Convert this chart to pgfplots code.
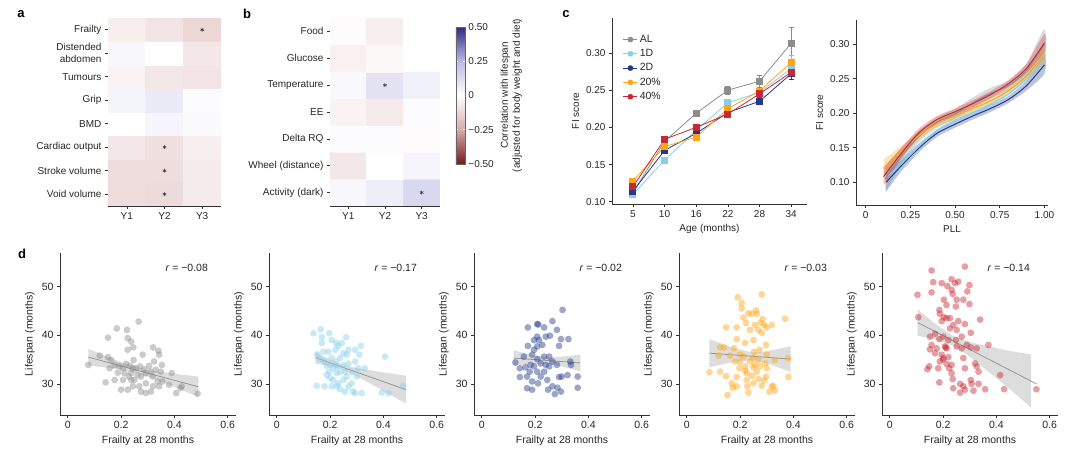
\documentclass[border=0pt]{standalone}
\usepackage{fontspec}
\setmainfont{Liberation Sans}
\usepackage{pgfplots}
\pgfplotsset{compat=1.18}
\usetikzlibrary{plotmarks}
\definecolor{cAL}{RGB}{140,140,140}
\definecolor{cOneD}{RGB}{135,206,235}
\definecolor{cTwoD}{RGB}{35,58,140}
\definecolor{cTw}{RGB}{255,165,20}
\definecolor{cFo}{RGB}{200,40,50}
\definecolor{axc}{RGB}{50,50,50}
\definecolor{regc}{RGB}{150,150,150}
\pgfplotsset{
  colormap={corr}{rgb255=(120,25,28) rgb255=(215,170,170) rgb255=(255,255,255) rgb255=(185,185,228) rgb255=(45,45,130)},
  base/.style={scale only axis, anchor=south west,
    axis x line*=bottom, axis y line*=left,
    axis line style={-, draw=axc, line width=0.7pt},
    tick align=outside, major tick length=3pt,
    tick style={draw=axc, line width=0.6pt},
    ticklabel style={font=\fontsize{10}{12}\selectfont, text=black!85},
    label style={font=\fontsize{10}{12}\selectfont, text=black!85},
    /pgf/number format/assume math mode=true,
    minor tick num=0},
  dax/.style={base, width=176pt, height=162pt, xmin=-0.029, xmax=0.631, ymin=23.6, ymax=56.9,
    xtick={0,0.2,0.4,0.6}, xticklabels={0,0.2,0.4,0.6},
    ytick={30,40,50}, yticklabels={30,40,50},
    ticklabel style={font=\fontsize{10.5}{12}\selectfont},
    label style={font=\fontsize{10.5}{12}\selectfont},
    xlabel={Frailty at 28 months}, ylabel={Lifespan (months)}},
  pts/.style={only marks, mark=*, mark size=3.4pt, color=#1, mark options={draw=#1, draw opacity=0, fill=#1, fill opacity=0.45}},
  rib/.style={fill=gray!75, fill opacity=0.35, draw=none},
  regl/.style={regc, line width=0.8pt},
}
\begin{document}
\begin{tikzpicture}
\useasboundingbox (0,0) rectangle (1080pt,463pt);
\node[font=\bfseries\fontsize{13}{14}\selectfont] at (21pt,449pt) {a};
\node[font=\bfseries\fontsize{13}{14}\selectfont] at (247pt,449pt) {b};
\node[font=\bfseries\fontsize{13}{14}\selectfont] at (566pt,449pt) {c};
\node[font=\bfseries\fontsize{13}{14}\selectfont] at (22pt,209pt) {d};

% ---------- panel a
\begin{axis}[base, at={(108pt,257pt)}, width=113pt, height=188pt,
  xmin=-0.5,xmax=2.5,ymin=-0.5,ymax=7.5,
  xtick={0,1,2}, xticklabels={Y1,Y2,Y3},
  ytick={0,...,7}, yticklabels={Void volume,Stroke volume,Cardiac output,BMD,Grip,Tumours,{Distended\\abdomen},Frailty},
  yticklabel style={align=right},
  colormap name=corr, point meta min=-0.5, point meta max=0.5]
\addplot[matrix plot*, mesh/cols=3, point meta=explicit] table[meta=c]{
x y c
0 0 -0.10
1 0 -0.11
2 0 -0.06
0 1 -0.10
1 1 -0.10
2 1 -0.06
0 2 -0.07
1 2 -0.09
2 2 -0.05
0 3 0.00
1 3 0.035
2 3 0.015
0 4 0.04
1 4 0.07
2 4 0.01
0 5 -0.035
1 5 -0.07
2 5 -0.08
0 6 0.025
1 6 0.00
2 6 -0.07
0 7 -0.05
1 7 -0.08
2 7 -0.12
};
\addplot[only marks, mark=asterisk, mark size=2pt, line width=0.5pt, axc] coordinates {(2,7)(1,2)(1,1)(1,0)};
\end{axis}

% ---------- panel b
\begin{axis}[base, at={(330pt,257pt)}, width=110pt, height=188pt,
  xmin=-0.5,xmax=2.5,ymin=-0.5,ymax=6.5,
  xtick={0,1,2}, xticklabels={Y1,Y2,Y3},
  ytick={0,...,6}, yticklabels={Activity (dark),Wheel (distance),Delta RQ,EE,Temperature,Glucose,Food},
  colormap name=corr, point meta min=-0.5, point meta max=0.5,
  colorbar,
  colorbar style={at={(1.145,0.952)}, anchor=north west, width=9pt, height=137pt, scale only axis,
    ytick={-0.5,-0.25,0,0.25,0.5}, yticklabels={−0.50,−0.25,0,0.25,0.50},
    yticklabel style={font=\fontsize{10}{12}\selectfont, text=black!85},
    ylabel={Correlation with lifespan\\(adjusted for body weight and diet)},
    ylabel style={align=center, font=\fontsize{10}{12}\selectfont, text=black!85},
    axis line style={draw=black!60, line width=0.4pt}, tick align=inside, major tick length=2pt,
    tick style={draw=white, line width=0.6pt}}]
\addplot[matrix plot*, mesh/cols=3, point meta=explicit] table[meta=c]{
x y c
0 0 0.03
1 0 0.06
2 0 0.14
0 1 -0.07
1 1 0.00
2 1 0.035
0 2 0.01
1 2 0.01
2 2 -0.01
0 3 -0.035
1 3 -0.06
2 3 0.01
0 4 0.02
1 4 0.10
2 4 0.05
0 5 -0.04
1 5 -0.02
2 5 0.00
0 6 -0.01
1 6 -0.05
2 6 0.00
};
\addplot[only marks, mark=asterisk, mark size=2pt, line width=0.5pt, axc] coordinates {(1,4)(2,0)};
\end{axis}

% ---------- panel c left
\begin{axis}[base, at={(612pt,259pt)}, width=195pt, height=186pt,
  xmin=-0.66, xmax=5.5, ymin=0.097, ymax=0.347,
  xtick={0,...,5}, xticklabels={5,10,16,22,28,34},
  ytick={0.10,0.15,0.20,0.25,0.30}, yticklabels={0.10,0.15,0.20,0.25,0.30},
  xlabel={Age (months)}, ylabel={FI score},
  legend style={at={(0.04,0.93)}, anchor=north west, draw=none, fill=none,
    font=\fontsize{10.5}{12}\selectfont, row sep=1.5pt, text=black!85},
  legend cell align=left,
  legend image code/.code={\draw[#1] (0pt,0pt) -- (14pt,0pt); \fill[#1] (7pt,0pt) circle (2.4pt);},
  every axis plot/.append style={line width=0.8pt, mark=square*, mark size=3pt,
    error bars/error bar style={line width=0.7pt},
    error bars/error mark options={rotate=90, mark size=2.5pt, line width=0.7pt}}]
\addplot[cAL, error bars/.cd, y dir=both, y explicit] coordinates {
(0,0.112) +- (0,0.003) (1,0.181) +- (0,0.003) (2,0.219) +- (0,0.004)
(3,0.250) +- (0,0.005) (4,0.262) +- (0,0.008) (5,0.313) +- (0,0.022)};
\addlegendentry{AL}
\addplot[cOneD, error bars/.cd, y dir=both, y explicit] coordinates {
(0,0.110) +- (0,0.003) (1,0.156) +- (0,0.003) (2,0.196) +- (0,0.003)
(3,0.233) +- (0,0.004) (4,0.247) +- (0,0.004) (5,0.279) +- (0,0.006)};
\addlegendentry{1D}
\addplot[cTwoD, error bars/.cd, y dir=both, y explicit] coordinates {
(0,0.114) +- (0,0.003) (1,0.169) +- (0,0.003) (2,0.192) +- (0,0.003)
(3,0.220) +- (0,0.004) (4,0.235) +- (0,0.004) (5,0.272) +- (0,0.008)};
\addlegendentry{2D}
\addplot[cTw, error bars/.cd, y dir=both, y explicit] coordinates {
(0,0.128) +- (0,0.003) (1,0.174) +- (0,0.003) (2,0.187) +- (0,0.003)
(3,0.225) +- (0,0.004) (4,0.249) +- (0,0.004) (5,0.287) +- (0,0.010)};
\addlegendentry{20\%}
\addplot[cFo, error bars/.cd, y dir=both, y explicit] coordinates {
(0,0.120) +- (0,0.003) (1,0.184) +- (0,0.003) (2,0.200) +- (0,0.003)
(3,0.218) +- (0,0.004) (4,0.245) +- (0,0.004) (5,0.274) +- (0,0.006)};
\addlegendentry{40\%}
\end{axis}

% ---------- panel c right
\begin{axis}[base, at={(856pt,258pt)}, width=192pt, height=185pt,
  xmin=-0.054, xmax=1.02, ymin=0.067, ymax=0.335,
  xtick={0,0.25,0.5,0.75,1}, xticklabels={0,0.25,0.50,0.75,1.00},
  ytick={0.10,0.15,0.20,0.25,0.30}, yticklabels={0.10,0.15,0.20,0.25,0.30},
  xlabel={PLL}, ylabel={FI score}]
\addplot[fill=cTwoD, fill opacity=0.3, draw=none, smooth, tension=0.4] coordinates {
(0.115,0.113)(0.2,0.132)(0.3,0.156)(0.4,0.176)(0.5,0.189)(0.6,0.201)(0.7,0.212)(0.8,0.225)(0.9,0.247)(1.0,0.283)
(1.0,0.257)(0.9,0.233)(0.8,0.215)(0.7,0.202)(0.6,0.191)(0.5,0.179)(0.4,0.166)(0.3,0.144)(0.2,0.116)(0.115,0.087)} --cycle;
\addplot[fill=cOneD, fill opacity=0.3, draw=none, smooth, tension=0.4] coordinates {
(0.12,0.121)(0.2,0.135)(0.3,0.158)(0.4,0.180)(0.5,0.195)(0.6,0.206)(0.7,0.218)(0.8,0.233)(0.9,0.257)(1.0,0.291)
(1.0,0.265)(0.9,0.243)(0.8,0.223)(0.7,0.208)(0.6,0.196)(0.5,0.185)(0.4,0.170)(0.3,0.146)(0.2,0.119)(0.12,0.095)} --cycle;
\addplot[fill=cAL, fill opacity=0.3, draw=none, smooth, tension=0.4] coordinates {
(0.11,0.125)(0.2,0.149)(0.3,0.175)(0.4,0.194)(0.5,0.206)(0.6,0.223)(0.7,0.237)(0.8,0.247)(0.9,0.272)(1.0,0.322)
(1.0,0.278)(0.9,0.252)(0.8,0.233)(0.7,0.221)(0.6,0.207)(0.5,0.192)(0.4,0.180)(0.3,0.159)(0.2,0.127)(0.11,0.085)} --cycle;
\addplot[fill=cTw, fill opacity=0.3, draw=none, smooth, tension=0.4] coordinates {
(0.1,0.133)(0.2,0.153)(0.3,0.174)(0.4,0.190)(0.5,0.201)(0.6,0.212)(0.7,0.223)(0.8,0.238)(0.9,0.261)(1.0,0.298)
(1.0,0.272)(0.9,0.247)(0.8,0.228)(0.7,0.213)(0.6,0.202)(0.5,0.191)(0.4,0.180)(0.3,0.162)(0.2,0.137)(0.1,0.107)} --cycle;
\addplot[fill=cFo, fill opacity=0.3, draw=none, smooth, tension=0.4] coordinates {
(0.1,0.121)(0.2,0.150)(0.3,0.178)(0.4,0.196)(0.5,0.207)(0.6,0.219)(0.7,0.232)(0.8,0.248)(0.9,0.272)(1.0,0.315)
(1.0,0.289)(0.9,0.258)(0.8,0.238)(0.7,0.222)(0.6,0.209)(0.5,0.197)(0.4,0.186)(0.3,0.166)(0.2,0.134)(0.1,0.095)} --cycle;
\addplot[cTwoD, line width=1pt, smooth] coordinates {(0.115,0.100)(0.2,0.124)(0.3,0.150)(0.4,0.171)(0.5,0.184)(0.6,0.196)(0.7,0.207)(0.8,0.220)(0.9,0.240)(1.0,0.270)};
\addplot[cOneD, line width=1pt, smooth] coordinates {(0.12,0.108)(0.2,0.127)(0.3,0.152)(0.4,0.175)(0.5,0.190)(0.6,0.201)(0.7,0.213)(0.8,0.228)(0.9,0.250)(1.0,0.278)};
\addplot[cAL, line width=1pt, smooth] coordinates {(0.11,0.105)(0.2,0.138)(0.3,0.167)(0.4,0.187)(0.5,0.199)(0.6,0.215)(0.7,0.229)(0.8,0.240)(0.9,0.262)(1.0,0.300)};
\addplot[cTw, line width=1pt, smooth] coordinates {(0.1,0.120)(0.2,0.145)(0.3,0.168)(0.4,0.185)(0.5,0.196)(0.6,0.207)(0.7,0.218)(0.8,0.233)(0.9,0.254)(1.0,0.285)};
\addplot[cFo, line width=1pt, smooth] coordinates {(0.1,0.108)(0.2,0.142)(0.3,0.172)(0.4,0.191)(0.5,0.202)(0.6,0.214)(0.7,0.227)(0.8,0.243)(0.9,0.265)(1.0,0.302)};
\end{axis}

% ---------- panel d1
\begin{axis}[dax, at={(60pt,48pt)}]
\addplot[pts=black!45] coordinates {
(0.077,33.9)(0.12,35.8)(0.151,35.5)(0.157,33.2)(0.142,30.3)(0.151,39.5)(0.184,41.4)(0.222,41.1)(0.225,39.4)(0.238,38.7)
(0.246,37.5)(0.225,37.0)(0.266,42.8)(0.281,36.0)(0.32,37.5)(0.34,36.8)(0.353,33.9)(0.39,32.2)(0.423,29.1)(0.407,28.1)
(0.487,28.0)(0.427,29.5)(0.355,30.5)(0.343,29.5)(0.312,28.4)(0.293,28.1)(0.32,29.5)(0.337,30.5)(0.293,30.1)(0.268,29.5)
(0.25,30.8)(0.238,32.2)(0.256,33.2)(0.271,33.6)(0.287,33.0)(0.305,33.7)(0.312,32.5)(0.293,32.2)(0.2,28.8)(0.225,28.8)
(0.207,30.8)(0.176,30.8)(0.188,32.3)(0.194,33.7)(0.207,33.2)(0.219,34.1)(0.234,33.7)(0.244,33.2)(0.213,32.2)(0.229,31.5)
(0.238,30.8)(0.244,29.5)(0.275,28.4)(0.176,33.9)(0.163,34.9)(0.262,31.8)(0.275,31.5)(0.318,31.5)(0.349,32.5)(0.33,32.9)
(0.38,29.8)(0.343,36.0)(0.324,34.6)(0.247,34.9)};
\addplot[rib] coordinates {(0.077,37.2)(0.15,35.55)(0.2,34.47)(0.26,33.40)(0.32,32.70)(0.37,32.30)(0.43,31.88)(0.49,31.49)
(0.49,27.31)(0.43,28.70)(0.37,30.04)(0.32,31.12)(0.26,32.20)(0.2,32.89)(0.15,33.29)(0.077,33.8)} --cycle;
\addplot[regl] coordinates {(0.077,35.5)(0.49,29.4)};
\node[font=\fontsize{10.5}{12}\selectfont, text=black!85] at (rel axis cs:0.72,0.907) {\textit{r} = −0.08};
\end{axis}

% ---------- panel d2
\begin{axis}[dax, at={(269pt,48pt)}]
\addplot[pts=cOneD] coordinates {
(0.1375,40.4)(0.165,41.2)(0.169,39.6)(0.169,38.4)(0.197,40.4)(0.206,39.0)(0.2225,38.4)(0.231,37.8)(0.26,39.6)(0.22,37.0)
(0.194,36.6)(0.175,36.6)(0.152,36.1)(0.15,29.6)(0.179,29.5)(0.1875,33.7)(0.197,32.5)(0.1875,31.8)(0.2,31.2)(0.2125,30.8)
(0.206,29.5)(0.225,29.5)(0.2375,28.9)(0.256,28.4)(0.269,29.5)(0.285,28.4)(0.294,28.1)(0.319,28.1)(0.25,30.8)(0.2625,31.5)
(0.281,32.5)(0.3,31.5)(0.306,33.2)(0.331,33.2)(0.294,34.6)(0.31,36.0)(0.316,37.8)(0.294,37.0)(0.269,37.0)(0.25,36.3)
(0.2375,35.3)(0.2225,34.6)(0.206,35.3)(0.2,33.9)(0.225,33.6)(0.25,33.9)(0.269,34.2)(0.2375,32.5)(0.256,32.5)(0.225,32.2)
(0.2125,33.2)(0.406,35.6)(0.394,28.2)(0.419,28.1)(0.4725,29.5)(0.179,34.6)(0.1625,35.1)(0.244,38.4)(0.231,30.1)(0.281,30.1)
(0.2625,36.0)};
\addplot[rib] coordinates {(0.145,36.6)(0.19,35.29)(0.24,34.06)(0.30,33.25)(0.36,32.70)(0.42,32.20)(0.485,31.66)
(0.485,25.94)(0.42,27.94)(0.36,29.76)(0.30,31.55)(0.24,33.06)(0.19,33.77)(0.145,34.2)} --cycle;
\addplot[regl] coordinates {(0.145,35.4)(0.485,28.8)};
\node[font=\fontsize{10.5}{12}\selectfont, text=black!85] at (rel axis cs:0.72,0.907) {\textit{r} = −0.17};
\end{axis}

% ---------- panel d3
\begin{axis}[dax, at={(474pt,48pt)}]
\addplot[pts=cTwoD] coordinates {
(0.126,34.4)(0.143,33.2)(0.143,31.4)(0.17,31.5)(0.164,33.4)(0.173,37.8)(0.173,41.6)(0.196,39.0)(0.196,37.0)(0.208,42.3)
(0.234,41.6)(0.208,39.7)(0.215,39.0)(0.227,38.0)(0.24,39.7)(0.256,39.9)(0.265,42.9)(0.282,41.1)(0.303,45.2)(0.297,39.2)
(0.29,37.8)(0.325,39.2)(0.253,35.6)(0.234,35.6)(0.208,35.1)(0.189,36.0)(0.183,33.9)(0.18,32.5)(0.189,30.5)(0.17,29.1)
(0.189,28.8)(0.211,30.1)(0.221,31.5)(0.234,32.5)(0.253,33.6)(0.265,34.6)(0.282,33.9)(0.29,31.4)(0.284,29.2)(0.274,27.9)
(0.249,28.8)(0.265,29.5)(0.297,28.4)(0.3,31.5)(0.322,31.8)(0.335,33.9)(0.332,34.6)(0.36,31.5)(0.36,29.2)(0.208,32.5)
(0.221,34.2)(0.24,33.9)(0.196,33.6)(0.246,30.8)(0.158,35.6)(0.208,37.7)(0.212,42.2)};
\addplot[rib] coordinates {(0.12,36.9)(0.16,36.33)(0.20,35.83)(0.24,35.52)(0.28,35.51)(0.32,35.69)(0.37,36.01)
(0.37,32.59)(0.32,33.31)(0.28,33.81)(0.24,34.12)(0.20,34.13)(0.16,33.95)(0.12,33.7)} --cycle;
\addplot[regl] coordinates {(0.12,35.3)(0.37,34.3)};
\node[font=\fontsize{10.5}{12}\selectfont, text=black!85] at (rel axis cs:0.72,0.907) {\textit{r} = −0.02};
\end{axis}

% ---------- panel d4
\begin{axis}[dax, at={(679pt,48pt)}]
\addplot[pts=cTw] coordinates {
(0.085,32.4)(0.125,32.5)(0.119,35.8)(0.125,37.5)(0.14,37.5)(0.1475,31.6)(0.1525,27.7)(0.1475,41.6)(0.169,30.1)(0.1725,29.2)
(0.1875,29.5)(0.1875,31.4)(0.1875,41.6)(0.1875,39.2)(0.191,47.8)(0.206,46.6)(0.206,45.5)(0.2,36.0)(0.2,34.5)(0.219,33.6)
(0.219,38.4)(0.2225,42.5)(0.2125,43.6)(0.231,44.5)(0.2375,41.1)(0.225,32.2)(0.225,30.8)(0.2275,29.5)(0.231,28.2)(0.25,30.1)
(0.244,31.6)(0.25,33.4)(0.2475,35.3)(0.2525,36.6)(0.25,39.0)(0.256,42.1)(0.2625,44.4)(0.244,44.4)(0.26,45.1)(0.269,41.1)
(0.281,40.5)(0.281,48.4)(0.2775,42.6)(0.29,42.1)(0.285,43.3)(0.2725,37.0)(0.275,33.6)(0.2625,32.5)(0.269,31.0)(0.281,29.6)
(0.29,30.7)(0.2975,31.5)(0.3,33.2)(0.3,36.0)(0.2975,38.0)(0.319,42.1)(0.3,41.6)(0.319,29.5)(0.331,28.6)(0.31,28.4)
(0.325,29.5)(0.331,34.9)(0.369,43.4)(0.381,35.3)(0.381,31.4)(0.181,34.6)(0.1625,35.8)(0.2125,35.6)(0.2375,34.6)(0.256,33.9)
(0.1975,33.2)(0.1775,37.3)(0.269,34.9)(0.294,34.2)(0.219,32.7)};
\addplot[rib] coordinates {(0.085,39.20)(0.13,38.28)(0.18,37.32)(0.245,36.47)(0.30,36.70)(0.345,37.20)(0.39,37.75)
(0.39,32.45)(0.345,33.36)(0.30,34.20)(0.245,34.87)(0.18,34.54)(0.13,33.96)(0.085,33.40)} --cycle;
\addplot[regl] coordinates {(0.085,36.3)(0.39,35.1)};
\node[font=\fontsize{10.5}{12}\selectfont, text=black!85] at (rel axis cs:0.72,0.907) {\textit{r} = −0.03};
\end{axis}

% ---------- panel d5
\begin{axis}[dax, at={(882pt,48pt)}]
\addplot[pts=cFo] coordinates {
(0.104,48.3)(0.107,43.7)(0.157,53.3)(0.163,50.9)(0.157,48.8)(0.282,54.1)(0.195,50.7)(0.216,50.1)(0.232,51.5)(0.257,51.0)
(0.245,50.7)(0.232,49.3)(0.236,48.5)(0.299,50.3)(0.291,49.0)(0.276,47.3)(0.251,47.3)(0.203,47.3)(0.213,46.2)(0.248,45.9)
(0.299,46.4)(0.186,45.2)(0.188,44.4)(0.203,43.7)(0.213,43.5)(0.226,43.5)(0.195,42.9)(0.238,42.1)(0.257,42.9)(0.282,42.3)
(0.339,43.2)(0.226,41.4)(0.251,41.1)(0.304,40.5)(0.17,40.3)(0.151,39.7)(0.186,39.2)(0.22,39.0)(0.248,39.0)(0.27,39.7)
(0.157,38.0)(0.151,37.1)(0.176,37.3)(0.207,37.7)(0.213,37.3)(0.251,37.7)(0.27,37.3)(0.289,38.0)(0.304,37.5)(0.326,37.3)
(0.37,38.0)(0.195,36.0)(0.201,35.3)(0.22,35.5)(0.276,35.3)(0.188,34.6)(0.213,34.1)(0.232,33.9)(0.223,33.2)(0.32,34.2)
(0.326,33.6)(0.148,33.6)(0.141,33.0)(0.182,33.2)(0.232,32.2)(0.282,33.2)(0.333,32.5)(0.236,31.0)(0.186,30.3)(0.264,30.0)
(0.304,30.8)(0.307,30.0)(0.238,29.1)(0.276,29.5)(0.264,28.2)(0.282,28.8)(0.314,28.6)(0.333,30.0)(0.358,28.9)(0.414,31.8)
(0.429,28.9)(0.55,28.9)(0.201,39.7)(0.17,36.3)(0.21,37.5)(0.2,35.0)};
\addplot[rib] coordinates {(0.105,45.30)(0.17,42.40)(0.24,39.78)(0.31,38.44)(0.38,37.61)(0.45,36.75)(0.53,36.06)
(0.53,25.10)(0.45,28.93)(0.38,32.03)(0.31,35.16)(0.24,37.78)(0.17,39.12)(0.105,39.90)} --cycle;
\addplot[regl] coordinates {(0.105,42.6)(0.55,30.0)};
\node[font=\fontsize{10.5}{12}\selectfont, text=black!85] at (rel axis cs:0.72,0.907) {\textit{r} = −0.14};
\end{axis}
\end{tikzpicture}
\end{document}
